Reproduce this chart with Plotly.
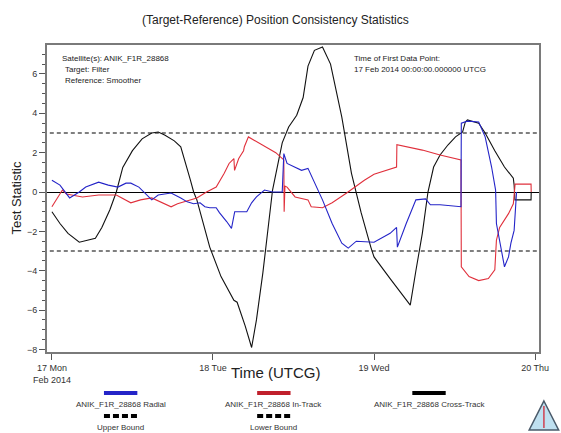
import pandas as pd
import plotly.graph_objects as go

# ---- data (time in days since 17 Feb 2014 00:00 UTCG) ----
radial_days = [0.0, 0.05, 0.11, 0.17, 0.21, 0.29, 0.35, 0.41, 0.46, 0.49, 0.54, 0.58, 0.62, 0.66,
               0.74, 0.80, 0.84, 0.88, 0.92, 0.95, 0.98, 1.02, 1.04, 1.085, 1.115, 1.135, 1.21,
               1.24, 1.27, 1.32, 1.37, 1.43, 1.44, 1.46, 1.55, 1.59, 1.615, 1.68, 1.74, 1.80,
               1.84, 1.89, 2.0, 2.10, 2.14, 2.145, 2.20, 2.26, 2.32, 2.35, 2.41, 2.54, 2.542,
               2.58, 2.65, 2.69, 2.73, 2.755, 2.76, 2.79, 2.81, 2.835, 2.85, 2.87, 2.88, 2.885]
radial_vals = [0.6, 0.35, -0.3, 0.0, 0.25, 0.5, 0.35, 0.25, 0.45, 0.45, 0.25, -0.05, -0.4, -0.15,
               -0.05, -0.3, -0.5, -0.6, -0.55, -0.75, -0.8, -0.8, -1.05, -1.5, -1.85, -1.0, -1.0,
               -0.55, -0.25, 0.1, 0.0, 0.0, 1.95, 1.45, 1.1, 1.2, 0.75, -0.4, -1.6, -2.6,
               -2.85, -2.5, -2.55, -2.1, -1.8, -2.8, -1.6, -0.4, -0.35, -0.65, -0.65, -0.75, 3.5,
               3.6, 3.56, 2.8, 1.27, 0.1, -1.6, -2.95, -3.8, -3.3, -2.6, -1.95, -0.4, 0.0]

intrack_days = [0.0, 0.035, 0.065, 0.09, 0.19, 0.29, 0.40, 0.49, 0.55, 0.62, 0.74, 0.78, 0.84,
                0.90, 0.96, 1.02, 1.07, 1.10, 1.13, 1.134, 1.16, 1.19, 1.195, 1.22, 1.39, 1.44,
                1.442, 1.447, 1.46, 1.51, 1.59, 1.61, 1.68, 1.74, 1.83, 1.94, 2.0, 2.14, 2.142,
                2.30, 2.41, 2.54, 2.542, 2.59, 2.65, 2.71, 2.75, 2.76, 2.78, 2.835, 2.865, 2.875,
                2.876, 2.975, 2.976]
intrack_vals = [-0.75, -0.3, 0.1, -0.1, -0.25, -0.15, -0.15, -0.55, -0.4, -0.3, -0.75, -0.6, -0.45,
                -0.3, 0.0, 0.25, 0.95, 1.45, 1.7, 1.1, 1.7, 2.1, 2.3, 2.8, 2.0, 1.63,
                -1.0, 0.3, 0.25, -0.25, -0.4, -0.75, -0.8, -0.55, -0.05, 0.6, 0.9, 1.27, 2.4,
                2.13, 1.88, 1.63, -3.8, -4.3, -4.5, -4.4, -3.95, -2.45, -1.8, -1.1, -0.6, 0.3,
                0.4, 0.4, 0.0]

crosstrack_days = [0.0, 0.05, 0.1, 0.17, 0.22, 0.27, 0.31, 0.36, 0.40, 0.44, 0.5, 0.56, 0.62,
                   0.66, 0.7, 0.76, 0.8, 0.83, 0.86, 0.88, 0.90, 0.98, 1.05, 1.13, 1.15, 1.20,
                   1.24, 1.27, 1.31, 1.37, 1.43, 1.47, 1.52, 1.56, 1.59, 1.63, 1.68, 1.73, 1.80,
                   1.86, 1.92, 1.98, 2.0, 2.1, 2.225, 2.26, 2.30, 2.335, 2.37, 2.41, 2.46, 2.506,
                   2.55, 2.567, 2.58, 2.65, 2.69, 2.75, 2.81, 2.865, 2.87, 2.875, 2.975, 2.976]
crosstrack_vals = [-1.0, -1.6, -2.1, -2.55, -2.45, -2.35, -1.8, -0.9, 0.0, 1.25, 2.1, 2.7, 3.0,
                   3.05, 2.9, 2.6, 2.3, 1.5, 0.6, 0.0, -0.4, -2.8, -4.3, -5.5, -5.6, -6.8,
                   -7.9, -6.5, -4.1, 0.1, 2.5, 3.3, 3.9, 4.8, 6.4, 7.2, 7.37, 6.5, 3.8,
                   0.95, -1.05, -2.8, -3.3, -4.4, -5.75, -4.0, -2.1, 0.0, 1.27, 1.88, 2.4, 2.8,
                   3.05, 3.56, 3.66, 3.5, 3.0, 2.1, 1.27, 0.7, 0.35, -0.4, -0.4, 0.0]

bound_days = [-0.1, 3.1]
upper_bound = [3, 3]
lower_bound = [-3, -3]

tick_days = [0, 1, 2, 3]
tick_text = ["17 Mon<br>Feb 2014", "18 Tue", "19 Wed", "20 Thu"]

START = pd.Timestamp("2014-02-17 00:00:00")


def to_time(days):
    return [START + pd.Timedelta(days=d) for d in days]


W, H = 561, 433
L, R, T, B = 47, 548, 45, 352  # plot-area edges in pixels


def px(x):
    return (x - L) / (R - L)


def py(y):
    return (B - y) / (B - T)


FONT = "Liberation Sans, Arial, sans-serif"
BLUE = "#2424c8"
RED = "#e0303c"
BLACK = "#111111"
GREY = "#555555"

fig = go.Figure()
fig.add_trace(go.Scatter(x=to_time(bound_days), y=upper_bound, mode="lines",
                         line=dict(color=GREY, width=1.5, dash="4px,3px"), name="Upper Bound"))
fig.add_trace(go.Scatter(x=to_time(bound_days), y=lower_bound, mode="lines",
                         line=dict(color=GREY, width=1.5, dash="4px,3px"), name="Lower Bound"))
fig.add_trace(go.Scatter(x=to_time(crosstrack_days), y=crosstrack_vals, mode="lines",
                         line=dict(color=BLACK, width=1.1), name="ANIK_F1R_28868 Cross-Track"))
fig.add_trace(go.Scatter(x=to_time(intrack_days), y=intrack_vals, mode="lines",
                         line=dict(color=RED, width=1.1), name="ANIK_F1R_28868 In-Track"))
fig.add_trace(go.Scatter(x=to_time(radial_days), y=radial_vals, mode="lines",
                         line=dict(color=BLUE, width=1.1), name="ANIK_F1R_28868 Radial"))

x_lo = START + pd.Timedelta(days=(L - 52) / 164)
x_hi = START + pd.Timedelta(days=(R - 52) / 164)

fig.update_layout(
    width=W, height=H,
    margin=dict(l=L, r=W - R, t=T, b=H - B),
    paper_bgcolor="white", plot_bgcolor="white",
    showlegend=False,
    font=dict(family=FONT, color="#333333", size=9),
    xaxis=dict(
        range=[x_lo, x_hi], tickvals=to_time(tick_days), ticktext=tick_text,
        ticks="outside", ticklen=6, tickcolor="#555", tickwidth=1,
        showgrid=False, zeroline=False,
        showline=True, linecolor="#7a7a7a", linewidth=2, mirror=True,
        tickfont=dict(size=9, color="#333"),
    ),
    yaxis=dict(
        range=[-8.13, 7.47], tickvals=[-8, -6, -4, -2, 0, 2, 4, 6],
        ticks="outside", ticklen=6, tickcolor="#555", tickwidth=1,
        minor=dict(dtick=0.5, tick0=0, ticks="outside", ticklen=3, tickcolor="#555"),
        showgrid=False, zeroline=True, zerolinecolor="#000", zerolinewidth=1,
        showline=True, linecolor="#7a7a7a", linewidth=2, mirror=True,
        tickfont=dict(size=9, color="#333"),
    ),
)

ann = []
ann.append(dict(text="(Target-Reference) Position Consistency Statistics", x=px(280), y=py(20),
                font=dict(size=12, color="#222")))
ann.append(dict(text="Time (UTCG)", x=px(280), y=py(372), font=dict(size=15, color="#222")))
ann.append(dict(text="Test Statistic", x=px(15), y=py(198), textangle=-90,
                font=dict(size=13, color="#222")))

# info boxes inside the plot area
for txt, x, y in [("Satellite(s): ANIK_F1R_28868", 60, 58), ("Target: Filter", 63, 69),
                  ("Reference: Smoother", 63, 80),
                  ("Time of First Data Point:", 358, 58),
                  ("17 Feb 2014 00:00:00.000000 UTCG", 358, 69)]:
    ann.append(dict(text=txt, x=px(x), y=py(y), xanchor="left", font=dict(size=8, color="#222")))

shapes = []
# legend swatches and labels
legend_rows = [
    ("ANIK_F1R_28868 Radial", BLUE, 122, 393, None),
    ("ANIK_F1R_28868 In-Track", "#c0202c", 278, 393, None),
    ("ANIK_F1R_28868 Cross-Track", "#000000", 436, 393, None),
    ("Upper Bound", "#000000", 122, 416, "6px,3px"),
    ("Lower Bound", "#000000", 278, 416, "6px,3px"),
]
for label, color, cx, sy, dash in legend_rows:
    shapes.append(dict(type="line", xref="paper", yref="paper",
                       x0=px(cx - 17), x1=px(cx + 17), y0=py(sy), y1=py(sy),
                       line=dict(color=color, width=4, dash=dash or "solid")))
    ann.append(dict(text=label, x=px(cx), y=py(sy + 11), font=dict(size=8, color="#333")))

# logo triangle in the lower-right corner
shapes.append(dict(type="path", xref="paper", yref="paper",
                   path=f"M {px(553)},{py(401)} L {px(568)},{py(430)} L {px(538)},{py(430)} Z",
                   fillcolor="#bfe0f0", line=dict(color="#4a5a6a", width=1.5)))
shapes.append(dict(type="line", xref="paper", yref="paper",
                   x0=px(553), x1=px(553), y0=py(406), y1=py(428),
                   line=dict(color="#d04050", width=1.5)))

for a in ann:
    a.setdefault("xref", "paper")
    a.setdefault("yref", "paper")
    a.setdefault("showarrow", False)
    a.setdefault("xanchor", "center")
    a.setdefault("yanchor", "middle")
fig.update_layout(annotations=ann, shapes=shapes)

fig.write_html("out.html")
